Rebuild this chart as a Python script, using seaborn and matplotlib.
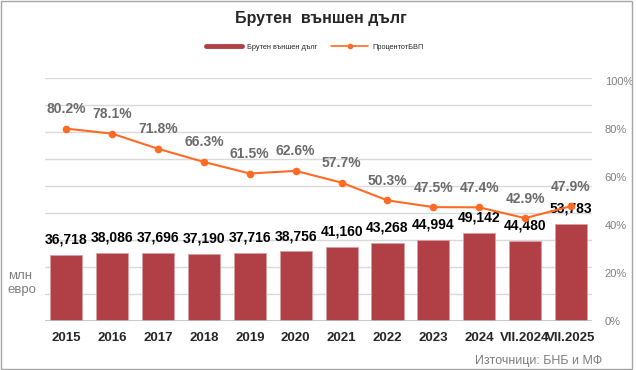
import numpy as np
import pandas as pd
import seaborn as sns
import matplotlib.pyplot as plt
from matplotlib.lines import Line2D
from matplotlib.patches import Rectangle

periods = ["2015", "2016", "2017", "2018", "2019", "2020", "2021", "2022", "2023", "2024", "VII.2024", "VII.2025"]
debt = [36718, 38086, 37696, 37190, 37716, 38756, 41160, 43268, 44994, 49142, 44480, 53783]
pct_gdp = [80.2, 78.1, 71.8, 66.3, 61.5, 62.6, 57.7, 50.3, 47.5, 47.4, 42.9, 47.9]

bar_color = "#B04045"
line_color = "#FF6A24"
grey = "#7F7F7F"

sns.set_style("white")
plt.rcParams["font.family"] = ["Liberation Sans", "DejaVu Sans"]

df = pd.DataFrame({"period": periods, "debt": debt, "pct": pct_gdp})

fig = plt.figure(figsize=(6.36, 3.7), dpi=100)
ax = fig.add_axes([0.071, 0.132, 0.86, 0.657])
sns.barplot(data=df, x="period", y="debt", color=bar_color, saturation=1,
            width=0.7, ax=ax, edgecolor="#D9A0A3", linewidth=0.6)
ax.set_ylim(0, 135000)
ax.set_yticks(np.arange(0, 135001, 15000))
ax.yaxis.grid(True, color="#D9D9D9", linewidth=1)
ax.set_axisbelow(True)
ax.tick_params(axis="y", left=False, labelleft=False, length=0)
ax.tick_params(axis="x", bottom=False, length=0, pad=8)
for lbl in ax.get_xticklabels():
    lbl.set_fontweight("bold")
    lbl.set_fontsize(9.5)
ax.set_xlabel("")
ax.set_ylabel("")
ax.set_xlim(-0.46, len(periods) - 0.54)
for s in ax.spines.values():
    s.set_visible(False)
ax.axhline(0, color="#BFBFBF", linewidth=1.2)

for i, v in enumerate(debt):
    ax.annotate(f"{v:,}", (i, v), xytext=(0, 6), textcoords="offset points",
                ha="center", va="bottom", fontsize=10, fontweight="bold", color="black")

ax2 = ax.twinx()
sns.lineplot(x=np.arange(len(periods)), y=pct_gdp, ax=ax2, color=line_color,
             linewidth=1.5, marker="o", markersize=5.5, markeredgewidth=0)
ax2.set_ylim(0, 101.25)
ax2.set_yticks(np.arange(0, 101, 20))
ax2.set_yticklabels([f"{t}%" for t in range(0, 101, 20)])
ax2.tick_params(axis="y", right=False, length=0, labelsize=8, labelcolor=grey, pad=9)
ax2.tick_params(axis="x", bottom=False, length=0)
for s in ax2.spines.values():
    s.set_visible(False)
for i, p in enumerate(pct_gdp):
    ax2.annotate(f"{p}%", (i, p), xytext=(0, 9), textcoords="offset points",
                 ha="center", va="bottom", fontsize=10, fontweight="bold", color="#6B6B6B")

fig.text(0.505, 0.951, "Брутен  външен дълг", ha="center", va="center",
         fontsize=11.5, fontweight="bold")

handles = [Line2D([0], [0], color=bar_color, linewidth=3.5),
           Line2D([0], [0], color=line_color, linewidth=1.2, marker="o", markersize=3)]
fig.legend(handles, ["Брутен външен дълг", "ПроцентотБВП"], loc="center",
           bbox_to_anchor=(0.495, 0.873), ncol=2, frameon=False, fontsize=5.3,
           handlelength=5, handletextpad=0.6, columnspacing=1.9)

fig.text(0.012, 0.235, "млн\nевро", ha="left", va="center", fontsize=9.5,
         color=grey, linespacing=1.3)
fig.text(0.947, 0.024, "Източници: БНБ и МФ", ha="right", va="center",
         fontsize=9, color=grey)

fig.add_artist(Rectangle((0.002, 0.003), 0.992, 0.994, transform=fig.transFigure,
                         fill=False, edgecolor="#A6A6A6", linewidth=1))

fig.savefig("out.png", dpi=100)
